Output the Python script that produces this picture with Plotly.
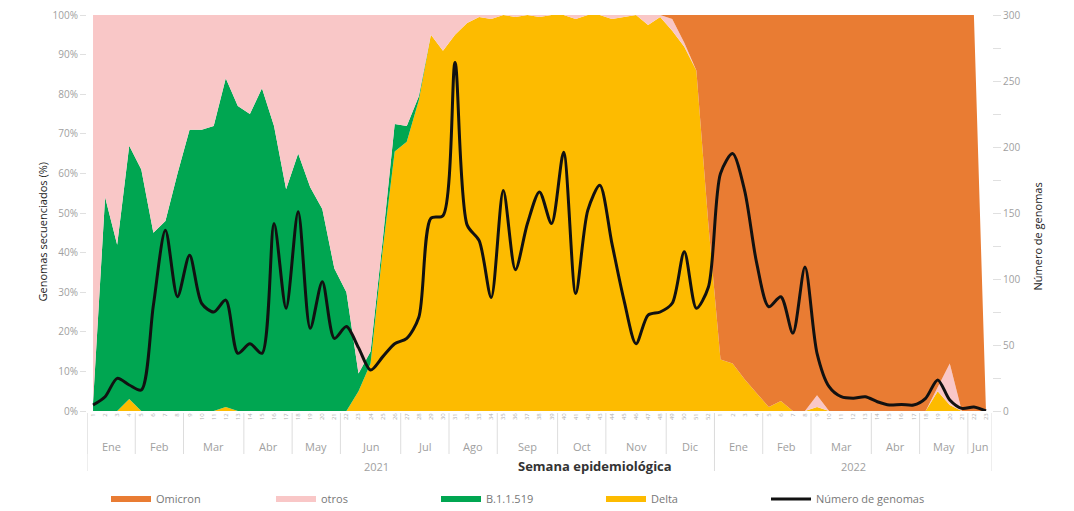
import plotly.graph_objects as go

# ---- data ----
week_labels = [str(w) for w in range(1, 53)] + [str(w) for w in range(1, 24)]
week_index = list(range(1, 76))

delta = [0, 0, 0, 3, 0, 0, 0, 0, 0, 0, 0, 1, 0, 0, 0, 0, 0, 0, 0, 0,
         0, 0, 5, 12, 40.5, 65.5, 68, 78.5, 95, 91, 95, 98, 99.5, 99, 100, 99.5, 100, 99.5, 100, 100,
         99, 100, 100, 99, 99.5, 100, 97.5, 99.5, 96, 92, 86, 47, 13, 12, 8, 4.5, 1, 2.5, 0, 0,
         1, 0, 0, 0, 0, 0, 0, 0, 0, 0, 5, 1.5, 0, 0, 0]
b11519 = [2, 54, 42, 64, 61, 45, 48, 60, 71, 71, 72, 83, 77, 75, 81.5, 72, 56, 65, 56.5, 51,
          36, 30, 4.5, 3, 2.5, 7, 4, 1, 0, 0, 0, 0, 0, 0, 0, 0, 0, 0, 0, 0,
          0, 0, 0, 0, 0, 0, 0, 0, 0, 0, 0, 0, 0, 0, 0, 0, 0, 0, 0, 0,
          0, 0, 0, 0, 0, 0, 0, 0, 0, 0, 0, 0, 0, 0, 0]
otros = [98, 46, 58, 33, 39, 55, 52, 40, 29, 29, 28, 16, 23, 25, 18.5, 28, 44, 35, 43.5, 49,
         64, 70, 90.5, 85, 57, 27.5, 28, 20.5, 5, 9, 5, 2, 0.5, 1, 0, 0.5, 0, 0.5, 0, 0,
         1, 0, 0, 1, 0.5, 0, 2.5, 0.5, 3, 1, 0, 0, 0, 0, 0, 0, 0, 0, 0, 0,
         3, 0, 0, 0, 0, 0, 0, 0, 0, 0, 1, 10.5, 0, 0, 0]
omicron = [0] * 48 + [1, 7, 14, 53, 87, 88, 92, 95.5, 99, 97.5, 100, 100,
                      96, 100, 100, 100, 100, 100, 100, 100, 100, 100, 94, 88, 100, 100, 0]
genomas = [4.5, 10.8, 24.7, 19.7, 15.9, 80, 137, 86.6, 118, 81.6,
           75, 84, 43.7, 51, 43.7, 142, 77.8, 151, 62.6, 98,
           55, 64, 48, 31, 41, 51, 55, 71, 146, 148,
           264, 141, 129, 86, 167, 107, 142, 166, 142, 196,
           89, 152, 171, 127, 84, 51, 72.7, 75, 81.6, 120.7,
           77.8, 94, 180, 195, 167, 112, 79, 86.6, 59, 109,
           43.7, 18.4, 10.8, 9.6, 10.8, 7, 4.5, 5, 4.5, 9.6,
           23.5, 8.3, 2, 3, 0]

months = ["Ene", "Feb", "Mar", "Abr", "May", "Jun", "Jul", "Ago", "Sep", "Oct", "Nov", "Dic",
          "Ene", "Feb", "Mar", "Abr", "May", "Jun"]
weeks_per_month = [4, 4, 5, 4, 4, 5, 4, 4, 5, 4, 5, 4, 4, 4, 5, 4, 4, 2]
years = ["2021", "2022"]
weeks_per_year = [52, 23]

C_OMI = "#E97C33"
C_OTR = "#F9C7C7"
C_B1 = "#00A651"
C_DEL = "#FDBB00"

fig = go.Figure()
for name, vals, col, rank in [("Delta", delta, C_DEL, 4),
                              ("B.1.1.519", b11519, C_B1, 3),
                              ("otros", otros, C_OTR, 2),
                              ("Omicron", omicron, C_OMI, 1)]:
    fig.add_trace(go.Scatter(x=week_index, y=vals, name=name, stackgroup="s",
                             mode="none", fillcolor=col, line=dict(width=0, color=col),
                             legendrank=rank, hoverinfo="skip"))

fig.add_trace(go.Scatter(x=week_index, y=genomas, name="Número de genomas", yaxis="y2",
                         mode="lines", line=dict(color="#111111", width=3, shape="spline",
                                                 smoothing=0.8),
                         legendrank=5))

# page offset (browser body margin) and plot-area geometry in screenshot pixels
OX, OY = 8, 8
W, H = 1074, 511
L, R, T, B = 87, 992, 15, 411
PW, PH = R - L, B - T


def px(x):
    return (x - L) / PW


def py(y):
    return (B - y) / PH


ann = []
shapes = []
start = 0.5
for m, n in zip(months, weeks_per_month):
    ann.append(dict(x=start + n / 2, y=py(447), xref="x", yref="paper", text=m,
                    showarrow=False, font=dict(size=11, color="#a0a0a0"), yanchor="middle"))
    shapes.append(dict(type="line", xref="x", yref="paper", x0=start, x1=start,
                       y0=py(413), y1=py(454), line=dict(color="#dddddd", width=1)))
    start += n
start = 0.5
for yname, n in zip(years, weeks_per_year):
    ann.append(dict(x=start + n / 2 - (2 if yname == "2021" else 0), y=py(466), xref="x",
                    yref="paper", text=yname, showarrow=False,
                    font=dict(size=11, color="#a0a0a0"), yanchor="middle"))
    shapes.append(dict(type="line", xref="x", yref="paper", x0=start, x1=start,
                       y0=py(413), y1=py(471), line=dict(color="#dddddd", width=1)))
    start += n
shapes.append(dict(type="line", xref="x", yref="paper", x0=start, x1=start,
                   y0=py(413), y1=py(471), line=dict(color="#dddddd", width=1)))

ann.append(dict(xref="paper", yref="paper", x=px(595), y=py(466),
                text="<b>Semana epidemiológica</b>", showarrow=False,
                font=dict(size=13, color="#333333"), yanchor="middle"))
ann.append(dict(xref="paper", yref="paper", x=px(32), y=py(232),
                text="Genomas secuenciados (%)", textangle=-90, showarrow=False,
                font=dict(size=11, color="#222222")))
ann.append(dict(xref="paper", yref="paper", x=px(1047), y=py(237),
                text="Número de genomas", textangle=-90, showarrow=False,
                font=dict(size=11, color="#222222")))

fig.update_layout(
    width=W - OX, height=H - OY,
    margin=dict(l=L - OX, r=W - R, t=T - OY, b=H - B, autoexpand=False),
    paper_bgcolor="white", plot_bgcolor="white",
    font=dict(family="Open Sans, Lato, sans-serif", color="#999999"),
    xaxis=dict(range=[0.5, 75.5], tickmode="array", tickvals=week_index, ticktext=week_labels,
               tickangle=-90, tickfont=dict(size=6, color="#b0b0b0"), showgrid=False,
               zeroline=False, showline=False, ticks=""),
    yaxis=dict(range=[0, 100], dtick=10, ticksuffix="%", showgrid=False, zeroline=False,
               ticks="outside", ticklen=6, tickcolor="#e0e0e0", ticklabeloverflow="allow",
               tickfont=dict(size=10, color="#a0a0a0")),
    yaxis2=dict(range=[0, 300], dtick=50, overlaying="y", side="right", showgrid=False,
                zeroline=False, ticks="outside", ticklen=8, tickcolor="#e0e0e0",
                ticklabeloverflow="allow",
                minor=dict(dtick=25, ticks="outside", ticklen=8, tickcolor="#e0e0e0"),
                tickfont=dict(size=10, color="#a0a0a0")),
    legend=dict(orientation="h", x=px(106), y=py(499), xanchor="left", yanchor="middle",
                traceorder="normal", entrywidth=110, font=dict(size=11, color="#777777"),
                itemwidth=40),
    annotations=ann, shapes=shapes, showlegend=True,
)

fig.write_html("out.html")
